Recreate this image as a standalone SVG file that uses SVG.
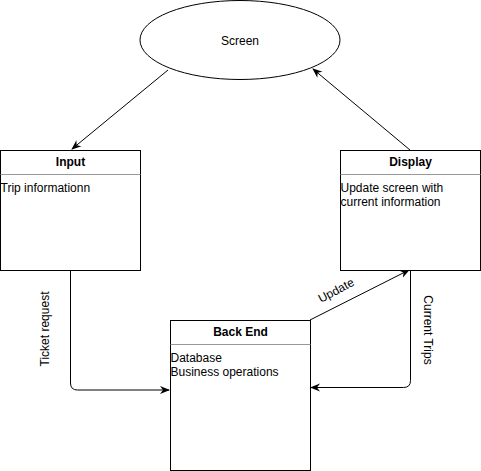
<svg xmlns="http://www.w3.org/2000/svg" width="481" height="471" viewBox="0 0 481 471">
<defs>
<marker id="arr" viewBox="0 0 10 10" refX="9" refY="5" markerWidth="10" markerHeight="10" markerUnits="userSpaceOnUse" orient="auto">
<path d="M0,1 L10,5 L0,9 L3,5 Z" fill="#000"/>
</marker>
<style>
text{font-family:"Liberation Sans",Arial,sans-serif;font-size:12px;fill:#000}
.h{font-weight:bold;text-anchor:middle}
.box{fill:#fff;stroke:#000;stroke-width:1}
.sep{stroke:#999;stroke-width:1}
.c{fill:none;stroke:#000;stroke-width:1;marker-end:url(#arr)}
</style>
</defs>
<rect width="481" height="471" fill="#fff"/>
<g id="connectors">
<path class="c" d="M168,70 L72,149"/>
<path class="c" d="M410,150 L313,69"/>
<path class="c" d="M70.5,270 L70.5,383 Q70.5,390 77.5,390 L169,390"/>
<path class="c" d="M310,320 L409,270"/>
<path class="c" d="M410.5,270 L410.5,380.5 Q410.5,387.5 403.5,387.5 L311,387.5"/>
<text transform="translate(49,329) rotate(-90)" text-anchor="middle">Ticket request</text>
<text transform="translate(424,330) rotate(90)" text-anchor="middle">Current Trips</text>
<text transform="translate(338,294) rotate(-28)" text-anchor="middle">Update</text>
</g>
<g id="screen">
<ellipse cx="240" cy="40" rx="100" ry="39.5" class="box"/>
<text x="240" y="45" text-anchor="middle">Screen</text>
</g>
<g id="input">
<rect x="0.5" y="150.5" width="140" height="120" class="box"/>
<line x1="0.5" y1="174.5" x2="140.5" y2="174.5" class="sep"/>
<text x="70.5" y="166" class="h">Input</text>
<text x="0.5" y="192">Trip informationn</text>
</g>
<g id="display">
<rect x="340.5" y="150.5" width="140" height="120" class="box"/>
<line x1="340.5" y1="174.5" x2="480.5" y2="174.5" class="sep"/>
<text x="410.5" y="166" class="h">Display</text>
<text x="340.5" y="192">Update screen with</text>
<text x="340.5" y="206">current information</text>
</g>
<g id="backend">
<rect x="170.5" y="320.5" width="140" height="150" class="box"/>
<line x1="170.5" y1="344.5" x2="310.5" y2="344.5" class="sep"/>
<text x="240.5" y="336" class="h">Back End</text>
<text x="170.5" y="362">Database</text>
<text x="170.5" y="376">Business operations</text>
</g>
</svg>
